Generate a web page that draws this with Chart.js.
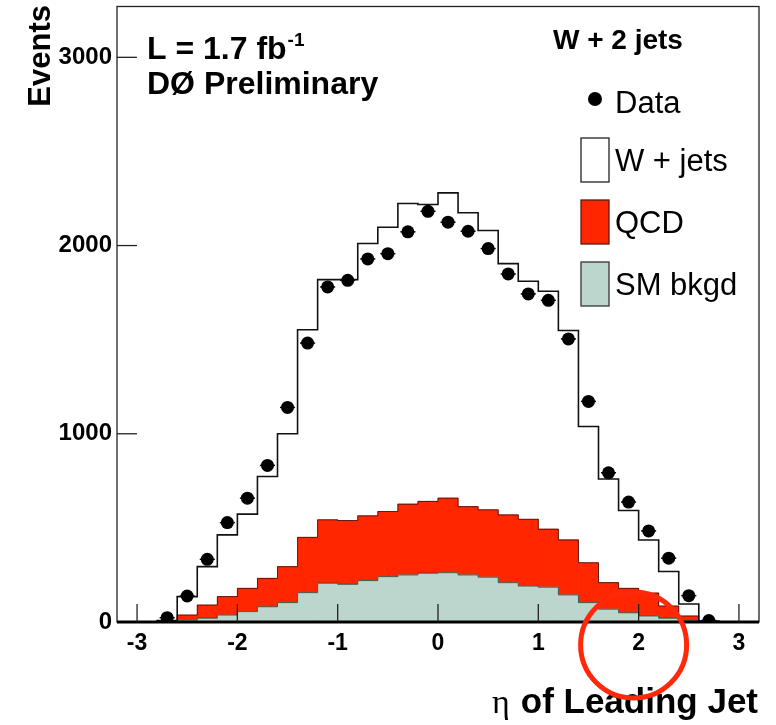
<!DOCTYPE html>
<html>
<head>
<meta charset="utf-8">
<script src="https://cdn.jsdelivr.net/npm/chart.js@4.4.0/dist/chart.umd.min.js"></script>
<style>
  html, body { margin: 0; padding: 0; background: #fff; }
  #wrap { width: 776px; height: 725px; }
</style>
</head>
<body>
<div id="wrap"><canvas id="canvas-eta"></canvas></div>
<script>
// bins of eta, width 0.2
const binCenters = [-2.7, -2.5, -2.3, -2.1, -1.9, -1.7, -1.5, -1.3, -1.1, -0.9, -0.7, -0.5, -0.3, -0.1,
  0.1, 0.3, 0.5, 0.7, 0.9, 1.1, 1.3, 1.5, 1.7, 1.9, 2.1, 2.3, 2.5, 2.7];
const binWidth = 0.2;

const dataCounts = [23, 138, 333, 528, 658, 832, 1140, 1482, 1780, 1815, 1929, 1957, 2073, 2182,
  2124, 2076, 1984, 1849, 1743, 1709, 1504, 1172, 793, 637, 484, 339, 140, 8];
const smBkgd = [1, 10, 20, 37, 55, 81, 103, 156, 206, 200, 220, 241, 250, 259,
  262, 250, 238, 209, 191, 185, 144, 103, 68, 49, 32, 20, 7, 1];
const qcd = [2, 27, 70, 98, 124, 151, 191, 294, 337, 339, 344, 346, 376, 382,
  396, 363, 358, 360, 355, 308, 292, 212, 141, 130, 122, 65, 25, 1];
const wJets = [5, 98, 204, 328, 394, 541, 706, 1103, 1276, 1280, 1447, 1510, 1597, 1577,
  1622, 1561, 1484, 1335, 1264, 1264, 1113, 724, 551, 413, 282, 183, 64, 3];

const xMajorTicks = [-3, -2, -1, 0, 1, 2, 3];
const yMajorTicks = [0, 1000, 2000, 3000];

const FONT = '"Liberation Sans", Arial, Helvetica, sans-serif';
const QCD_RED = "rgb(255, 38, 0)";
const SM_GREY = "rgb(189, 214, 205)";

function points(values) {
  return binCenters.map((c, i) => ({ x: c, y: values[i] }));
}

// step outline along the top of a (cumulative) histogram
function stepOutline(values) {
  const pts = [{ x: binCenters[0] - binWidth / 2, y: 0 }];
  binCenters.forEach((c, i) => pts.push({ x: c - binWidth / 2, y: values[i] }));
  const last = binCenters.length - 1;
  pts.push({ x: binCenters[last] + binWidth / 2, y: values[last] });
  pts.push({ x: binCenters[last] + binWidth / 2, y: 0 });
  return pts;
}

function isMajor(v, majors) {
  return majors.some((m) => Math.abs(v - m) < 1e-6);
}

const smTop = smBkgd.slice();
const qcdTop = smBkgd.map((v, i) => v + qcd[i]);
const total = qcdTop.map((v, i) => v + wJets[i]);

const decor = {
  id: "decor",
  afterDatasetsDraw(chart) {
    const ctx = chart.ctx;
    const xs = chart.scales.x;
    const ys = chart.scales.y;
    // horizontal error bars on the data points
    ctx.save();
    ctx.strokeStyle = "#000";
    ctx.lineWidth = 1.5;
    binCenters.forEach((c, i) => {
      const py = ys.getPixelForValue(dataCounts[i]);
      ctx.beginPath();
      ctx.moveTo(xs.getPixelForValue(c - 0.075), py);
      ctx.lineTo(xs.getPixelForValue(c + 0.075), py);
      ctx.stroke();
    });
    ctx.restore();
  },
  afterDraw(chart) {
    const ctx = chart.ctx;
    const { left, right, top, bottom } = chart.chartArea;
    const xs = chart.scales.x;
    const ys = chart.scales.y;
    ctx.save();

    // frame
    ctx.strokeStyle = "#222";
    ctx.lineWidth = 1.3;
    ctx.strokeRect(left, top, right - left, bottom - top);
    ctx.strokeStyle = "#000";
    ctx.lineWidth = 3;
    ctx.beginPath();
    ctx.moveTo(left, bottom);
    ctx.lineTo(right, bottom);
    ctx.stroke();

    // inside ticks
    ctx.lineWidth = 1.3;
    ctx.strokeStyle = "#222";
    xs.ticks.forEach((t) => {
      const px = xs.getPixelForValue(t.value);
      if (px < left + 2 || px > right - 2) return;
      const len = isMajor(t.value, xMajorTicks) ? 18 : 9;
      ctx.beginPath();
      ctx.moveTo(px, bottom);
      ctx.lineTo(px, bottom - len);
      ctx.stroke();
    });
    ys.ticks.forEach((t) => {
      const py = ys.getPixelForValue(t.value);
      if (py < top + 2 || py > bottom - 1) return;
      const len = isMajor(t.value, yMajorTicks) ? 20 : 10;
      ctx.beginPath();
      ctx.moveTo(left, py);
      ctx.lineTo(left + len, py);
      ctx.stroke();
    });

    // labels inside the frame
    ctx.fillStyle = "#000";
    ctx.textAlign = "left";
    ctx.textBaseline = "alphabetic";
    ctx.font = "bold 32px " + FONT;
    const lumi = "L = 1.7 fb";
    ctx.fillText(lumi, left + 30, top + 52);
    const lw = ctx.measureText(lumi).width;
    ctx.font = "bold 19px " + FONT;
    ctx.fillText("-1", left + 31 + lw, top + 39);
    ctx.font = "bold 32px " + FONT;
    ctx.fillText("DØ Preliminary", left + 30, top + 87);

    // legend
    const lx = 595;
    ctx.font = "bold 28px " + FONT;
    ctx.fillText("W + 2 jets", 553, top + 42);
    ctx.font = "31px " + FONT;
    ctx.beginPath();
    ctx.arc(lx, 99, 7, 0, Math.PI * 2);
    ctx.fill();
    ctx.fillText("Data", 615, 113);
    const boxes = [
      { label: "W + jets", fill: "#fff", stroke: "#222", y: 138 },
      { label: "QCD", fill: QCD_RED, stroke: "#5a1a10", y: 200 },
      { label: "SM bkgd", fill: SM_GREY, stroke: "#333", y: 262 },
    ];
    boxes.forEach((b) => {
      ctx.fillStyle = b.fill;
      ctx.fillRect(581, b.y, 28, 44);
      ctx.strokeStyle = b.stroke;
      ctx.lineWidth = 1.3;
      ctx.strokeRect(581, b.y, 28, 44);
      ctx.fillStyle = "#000";
      ctx.fillText(b.label, 615, b.y + 22 + 11);
    });

    // axis titles
    ctx.font = "bold 31px " + FONT;
    ctx.save();
    ctx.translate(50, 5);
    ctx.rotate(-Math.PI / 2);
    ctx.textAlign = "right";
    ctx.fillText("Events", 0, 0);
    ctx.restore();

    ctx.textAlign = "right";
    ctx.font = "bold 35px " + FONT;
    const xt = "of Leading Jet";
    ctx.fillText(xt, right - 1, 713);
    const xtw = ctx.measureText(xt).width;
    ctx.font = '34px "Liberation Serif", "DejaVu Serif", serif';
    ctx.fillText("η", right - 1 - xtw - 11, 713);

    // red circle annotation
    ctx.strokeStyle = "rgb(255, 40, 10)";
    ctx.lineWidth = 5;
    ctx.beginPath();
    ctx.ellipse(xs.getPixelForValue(1.95), bottom + 23, 53, 53, 0, 0, Math.PI * 2);
    ctx.stroke();

    ctx.restore();
  },
};

const ctx = document.getElementById("canvas-eta");

new Chart(ctx, {
  type: "bar",
  data: {
    datasets: [
      {
        type: "line",
        label: "Data",
        stack: "data",
        data: points(dataCounts),
        showLine: false,
        pointRadius: 6.5,
        pointBackgroundColor: "#000",
        pointBorderWidth: 0,
      },
      {
        type: "line",
        label: "total",
        stack: "outline-total",
        data: stepOutline(total),
        stepped: "before",
        borderColor: "#111",
        borderWidth: 1.6,
        pointRadius: 0,
        fill: false,
      },
      {
        type: "line",
        label: "qcd top",
        stack: "outline-qcd",
        data: stepOutline(qcdTop),
        stepped: "before",
        borderColor: "rgba(40, 10, 0, 0.75)",
        borderWidth: 1,
        pointRadius: 0,
        fill: false,
      },
      {
        type: "line",
        label: "sm top",
        stack: "outline-sm",
        data: stepOutline(smTop),
        stepped: "before",
        borderColor: "rgba(30, 40, 35, 0.7)",
        borderWidth: 1,
        pointRadius: 0,
        fill: false,
      },
      {
        label: "SM bkgd",
        stack: "bkg",
        data: points(smBkgd),
        backgroundColor: SM_GREY,
        borderWidth: 0,
        barPercentage: 1,
        categoryPercentage: 1,
      },
      {
        label: "QCD",
        stack: "bkg",
        data: points(qcd),
        backgroundColor: QCD_RED,
        borderWidth: 0,
        barPercentage: 1,
        categoryPercentage: 1,
      },
      {
        label: "W + jets",
        stack: "bkg",
        data: points(wJets),
        backgroundColor: "#fff",
        borderWidth: 0,
        barPercentage: 1,
        categoryPercentage: 1,
      },
    ],
  },
  options: {
    responsive: true,
    maintainAspectRatio: false,
    animation: false,
    layout: { padding: { left: 0, right: 17, top: 6, bottom: 0 } },
    plugins: {
      legend: { display: false },
      tooltip: { enabled: false },
    },
    scales: {
      x: {
        type: "linear",
        min: -3.2,
        max: 3.2,
        offset: false,
        stacked: true,
        grid: { display: false, drawTicks: false },
        border: { display: false },
        ticks: {
          stepSize: 0.2,
          autoSkip: false,
          maxRotation: 0,
          includeBounds: false,
          padding: 8,
          color: "#000",
          font: { family: FONT, size: 23, weight: "bold" },
          callback: (v) => (isMajor(v, xMajorTicks) ? String(Math.round(v)) : null),
        },
        afterFit: (scale) => {
          scale.height = 103;
          scale.paddingLeft = 0;
          scale.paddingRight = 0;
        },
      },
      y: {
        type: "linear",
        min: 0,
        max: 3270,
        stacked: true,
        grid: { display: false, drawTicks: false },
        border: { display: false },
        ticks: {
          stepSize: 200,
          autoSkip: false,
          includeBounds: false,
          padding: 5,
          color: "#000",
          font: { family: FONT, size: 24, weight: "bold" },
          callback: (v) => (isMajor(v, yMajorTicks) ? String(v) : null),
        },
        afterFit: (scale) => {
          scale.width = 117;
          scale.paddingTop = 0;
          scale.paddingBottom = 0;
        },
      },
    },
  },
  plugins: [decor],
});
</script>
</body>
</html>
